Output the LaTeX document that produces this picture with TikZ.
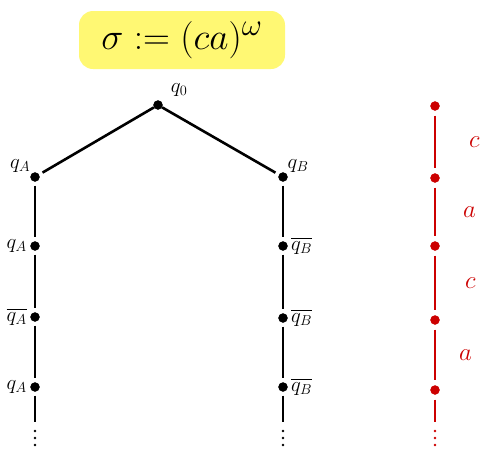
\documentclass[tikz,border=0pt]{standalone}
\usepackage{amssymb,amsmath}
\usepackage{tikz}

\begin{document}
\begin{tikzpicture}[x=1pt,y=-1pt,
    vertex/.style={circle,draw,fill=black,minimum size=9pt,inner sep=0pt},
    rvertex/.style={circle,draw=red!80!black,fill=red!80!black,minimum size=9pt,inner sep=0pt},
    edge/.style={line width=2.6pt,shorten >=4pt,shorten <=4pt},
    redge/.style={line width=1.8pt,red!80!black,shorten >=5pt,shorten <=5pt},
    lab/.style={font=\fontsize{20}{22}\selectfont},
    rlab/.style={font=\fontsize{24}{26}\selectfont,red!80!black},
    ell/.style={fill,circle,inner sep=0pt,minimum size=2.6pt}]
\useasboundingbox (0,0) rectangle (485,451);

\node[fill=yellow!55,rounded corners=14pt,minimum width=206pt,minimum height=58pt,inner sep=0pt,
      font=\Huge] (sigma) at (182,40) {\scalebox{1.5}{$\sigma := (ca)^{\omega}$}};

\node[vertex,label={[lab,label distance=6pt]30:$q_0$}] (0) at (158,105) {};

\node[vertex,label={[lab,label distance=-3pt]above left:$q_A$}] (A1) at (35,177) {};
\node[vertex,label={[lab]left:$q_A$}] (A2) at (35,246) {};
\node[vertex,label={[lab]left:$\overline{q_A}$}] (A3) at (35,317) {};
\node[vertex,label={[lab]left:$q_A$}] (A4) at (35,387) {};
\coordinate (Ae) at (35,422);

\node[vertex,label={[lab,label distance=-3pt]above right:$q_B$}] (B1) at (283,177) {};
\node[vertex,label={[lab]right:$\overline{q_B}$}] (B2) at (283,246) {};
\node[vertex,label={[lab]right:$\overline{q_B}$}] (B3) at (283,318) {};
\node[vertex,label={[lab]right:$\overline{q_B}$}] (B4) at (283,387) {};
\coordinate (Be) at (283,422);

\draw[edge,shorten <=0pt] (0) -- (A1);
\draw[edge,shorten <=0pt] (0) -- (B1);
\draw[edge] (A1) -- (A2);
\draw[edge] (A2) -- (A3);
\draw[edge] (A3) -- (A4);
\draw[edge,shorten >=0pt] (A4) -- (Ae);
\draw[edge] (B1) -- (B2);
\draw[edge] (B2) -- (B3);
\draw[edge] (B3) -- (B4);
\draw[edge,shorten >=0pt] (B4) -- (Be);

\foreach \y in {431,438,445} {
  \node[ell] at (35,\y) {};
  \node[ell] at (283,\y) {};
  \node[ell,red!80!black] at (435,\y) {};
}

% the word
\node[rvertex] (r1) at (435,106) {};
\node[rvertex] (r2) at (435,178) {};
\node[rvertex] (r3) at (435,246) {};
\node[rvertex] (r4) at (435,320) {};
\node[rvertex] (r5) at (435,390) {};
\coordinate (re) at (435,422);

\draw[redge] (r1) -- node[rlab,right=30pt] {$c$} (r2);
\draw[redge] (r2) -- node[rlab,right=24pt] {$a$} (r3);
\draw[redge] (r3) -- node[rlab,right=26pt] {$c$} (r4);
\draw[redge] (r4) -- node[rlab,right=20pt] {$a$} (r5);
\draw[redge,shorten >=0pt] (r5) -- (re);
\end{tikzpicture}
\end{document}
